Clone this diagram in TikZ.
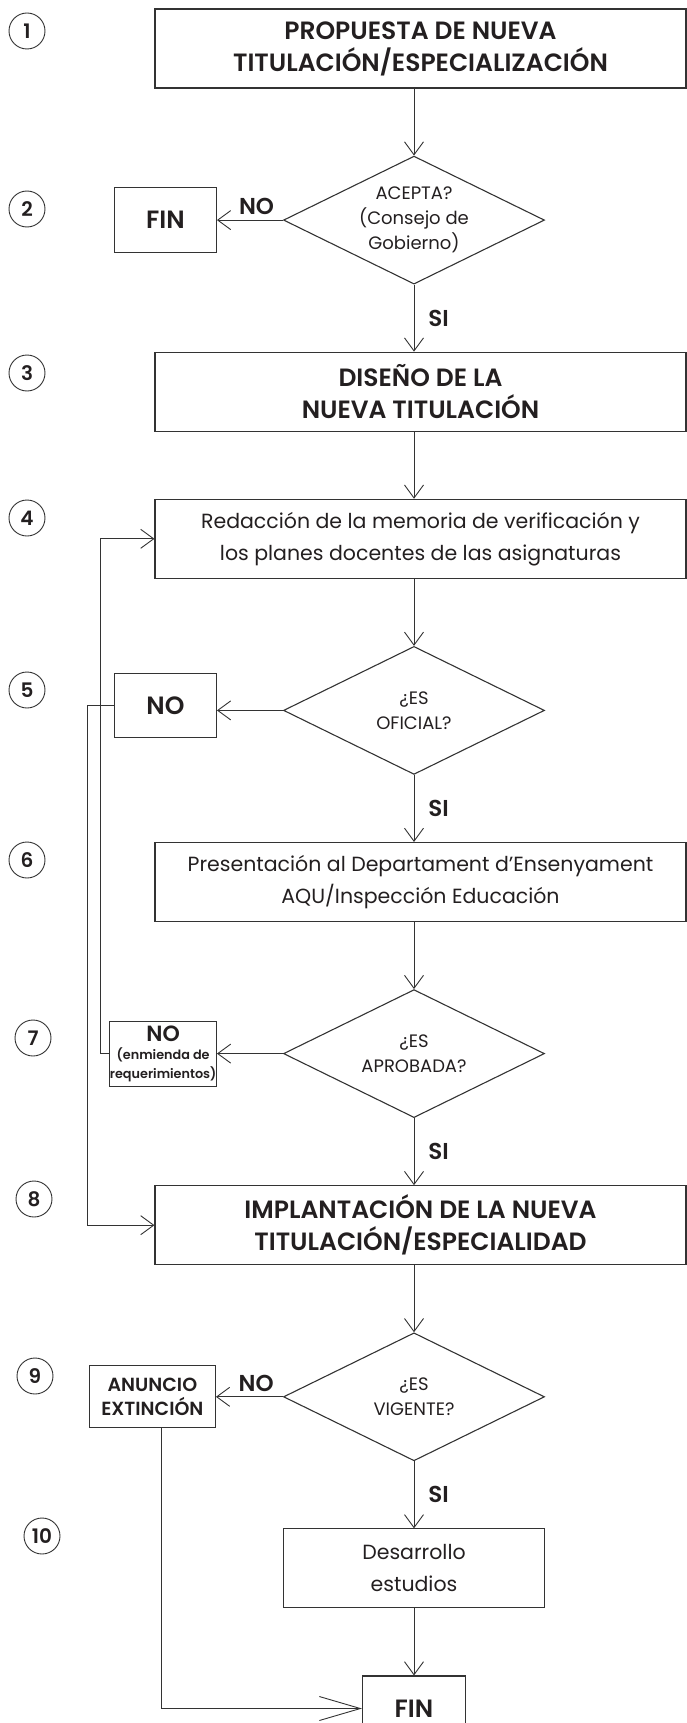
\documentclass[tikz,border=0pt]{standalone}
\usepackage{fontspec}
\setmainfont{Poppins}[BoldFont=* SemiBold]
\usetikzlibrary{positioning}
\usetikzlibrary{shapes.geometric}
\usetikzlibrary{arrows.meta}

\definecolor{linegray}{HTML}{333333}
\definecolor{inkblack}{HTML}{231F20}

\tikzset{
	widebox/.style={draw=linegray, line width=1.1pt, minimum width=531pt, minimum height=79pt, inner sep=0pt, align=center, text=inkblack},
	smallbox/.style={draw=linegray, line width=1.1pt, inner sep=0pt, align=center, text=inkblack},
	question/.style={draw=linegray, line width=1.1pt, diamond, aspect=2.04, minimum width=261pt, minimum height=128pt, inner sep=0pt, align=center, text=inkblack, font=\fontsize{18}{25}\selectfont},
	stepnum/.style={draw=linegray, line width=0.9pt, circle, minimum size=36pt, inner sep=0pt, text=inkblack, font=\fontsize{20}{20}\selectfont\bfseries},
	flow/.style={draw=linegray, line width=0.9pt, -{Straight Barb[length=13pt, width=19pt]}},
	bigflow/.style={draw=linegray, line width=0.9pt, -{Straight Barb[length=41pt, width=24pt]}},
	answer/.style={inner sep=0pt, text=inkblack, font=\fontsize{23}{23}\selectfont\bfseries},
	titletext/.style={font=\fontsize{25}{32}\selectfont\bfseries},
	plaintext/.style={font=\fontsize{20.5}{32}\selectfont}
}

\begin{document}
\begin{tikzpicture}[x=1pt, y=-1pt]
\useasboundingbox (0,0) rectangle (687,1723);

\node[
	widebox,
	titletext
] (propuesta) at (420.5, 48.5) {PROPUESTA DE NUEVA\\TITULACIÓN/ESPECIALIZACIÓN};

\node[
	question,
	below=67pt of propuesta,
	xshift=-6.5pt
] (acepta) {ACEPTA?\\(Consejo de\\Gobierno)};

\node[
	smallbox,
	titletext,
	minimum width=102pt,
	minimum height=65pt,
	left=66pt of acepta
] (finA) {FIN};

\node[
	widebox,
	titletext,
	below=67pt of acepta,
	xshift=6.5pt
] (diseno) {DISEÑO DE LA\\NUEVA TITULACIÓN};

\node[
	widebox,
	plaintext,
	below=67pt of diseno
] (redaccion) {Redacción de la memoria de verificación y\\los planes docentes de las asignaturas};

\node[
	question,
	below=67pt of redaccion,
	xshift=-6.5pt
] (oficial) {¿ES\\OFICIAL?};

\node[
	smallbox,
	titletext,
	minimum width=102pt,
	minimum height=64pt,
	left=66pt of oficial,
	yshift=5pt
] (noOficial) {NO};

\node[
	widebox,
	plaintext,
	below=67pt of oficial,
	xshift=6.5pt
] (presentacion) {Presentación al Departament d’Ensenyament\\AQU/Inspección Educación};

\node[
	question,
	below=67pt of presentacion,
	xshift=-6.5pt
] (aprobada) {¿ES\\APROBADA?};

\node[
	smallbox,
	minimum width=104pt,
	minimum height=65pt,
	left=66pt of aprobada,
	font=\fontsize{12.8}{18.5}\selectfont\bfseries
] (noAprobada) {{\fontsize{22}{22}\selectfont NO}\\(enmienda de\\requerimientos)};

\node[
	widebox,
	titletext,
	below=67pt of aprobada,
	xshift=6.5pt
] (implantacion) {IMPLANTACIÓN DE LA NUEVA\\TITULACIÓN/ESPECIALIDAD};

\node[
	question,
	below=67pt of implantacion,
	xshift=-6.5pt
] (vigente) {¿ES\\VIGENTE?};

\node[
	smallbox,
	minimum width=126pt,
	minimum height=62pt,
	left=67pt of vigente,
	font=\fontsize{19}{24}\selectfont\bfseries
] (anuncio) {ANUNCIO\\EXTINCIÓN};

\node[
	smallbox,
	plaintext,
	minimum width=261pt,
	minimum height=79pt,
	below=67pt of vigente
] (desarrollo) {Desarrollo\\estudios};

\node[
	smallbox,
	titletext,
	minimum width=103pt,
	minimum height=65pt,
	below=67pt of desarrollo
] (finB) {FIN};

% --- step numbers

\node[stepnum] (num1) at (27, 31) {1};
\node[stepnum] (num2) at (27, 209) {2};
\node[stepnum] (num3) at (27, 373) {3};
\node[stepnum] (num4) at (27, 518) {4};
\node[stepnum] (num5) at (27, 690) {5};
\node[stepnum] (num6) at (27, 860) {6};
\node[stepnum] (num7) at (33, 1038) {7};
\node[stepnum] (num8) at (34, 1199) {8};
\node[stepnum] (num9) at (35, 1376) {9};
\node[stepnum] (num10) at (42, 1536) {10};

% ---

\draw[flow] (propuesta.south -| acepta.north) -- (acepta.north);

\draw[flow] (acepta.west) -- (finA.east)
	node[pos=0.4, above=5pt, answer]{NO};

\draw[flow] (acepta.south) -- (acepta.south |- diseno.north)
	node[midway, right=14pt, answer]{SI};

\draw[flow] (acepta.south |- diseno.south) -- (acepta.south |- redaccion.north);

\draw[flow] (redaccion.south -| oficial.north) -- (oficial.north);

% ---

\draw[flow] (oficial.west) -- (oficial.west -| noOficial.east);

\draw[flow] (oficial.south) -- (oficial.south |- presentacion.north)
	node[midway, right=14pt, answer]{SI};

\draw[flow] (presentacion.south -| aprobada.north) -- (aprobada.north);

\draw[flow] (aprobada.west) -- (aprobada.west -| noAprobada.east);

\draw[flow] (aprobada.south) -- (aprobada.south |- implantacion.north)
	node[midway, right=14pt, answer]{SI};

% ---

\draw[flow] (noAprobada.west) -- ++(-9pt, 0) |- (redaccion.west);

\draw[flow] (noOficial.west) -- ++(-26pt, 0) |- (implantacion.west);

% ---

\draw[flow] (implantacion.south -| vigente.north) -- (vigente.north);

\draw[flow] (vigente.west) -- (anuncio.east |- vigente.west)
	node[pos=0.4, above=5pt, answer]{NO};

\draw[flow] (vigente.south) -- (desarrollo.north)
	node[midway, right=14pt, answer]{SI};

\draw[flow] (desarrollo.south) -- (finB.north);

\draw[bigflow] ([xshift=9pt]anuncio.south) |- (finB.west);

\end{tikzpicture}
\end{document}
